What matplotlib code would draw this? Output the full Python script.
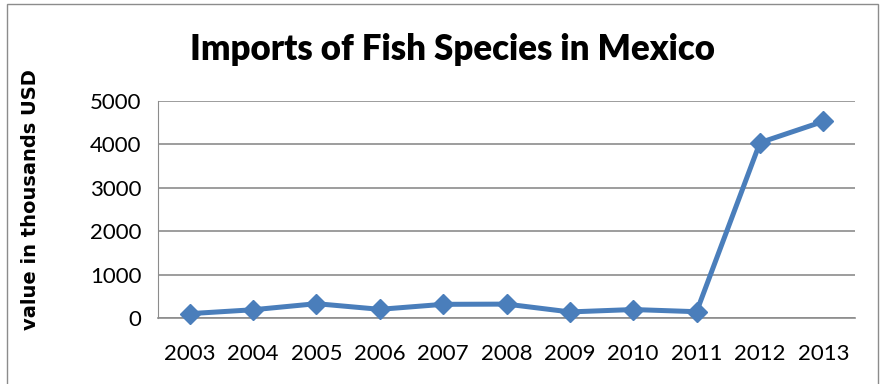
import matplotlib
matplotlib.use("Agg")
import matplotlib.pyplot as plt
from matplotlib.patches import Rectangle

years = ["2003", "2004", "2005", "2006", "2007", "2008", "2009", "2010", "2011", "2012", "2013"]
values = [100, 190, 330, 200, 315, 320, 140, 195, 145, 4040, 4530]
y_ticks = [0, 1000, 2000, 3000, 4000, 5000]

plt.rcParams['font.family'] = ['Lato', 'DejaVu Sans']

fig = plt.figure(figsize=(8.82, 3.84), dpi=100)
# chart border
fig.patches.append(Rectangle((7 / 882, -0.01), 871 / 882, 1 - 4 / 384 + 0.01,
                             transform=fig.transFigure, fill=False,
                             edgecolor='#8c8c8c', linewidth=1))

ax = fig.add_axes([158 / 882, 1 - 318 / 384, 697 / 882, 217 / 384])
x = list(range(len(years)))
ax.plot(x, values, color='#4a7ebb', linewidth=3.6, marker='D', markersize=10,
        zorder=3, clip_on=False)

ax.set_xlim(-0.5, len(years) - 0.5)
ax.set_ylim(0, 5000)
ax.set_yticks(y_ticks)
ax.set_yticklabels([str(v) for v in y_ticks], fontsize=16)
ax.set_xticks(x)
ax.set_xticklabels(years, fontsize=16)
ax.tick_params(axis='both', length=0)
ax.tick_params(axis='x', pad=19)
ax.tick_params(axis='y', pad=12)
ax.grid(axis='y', color='#8c8c8c', linewidth=1.2)
ax.set_axisbelow(True)
for side in ['top', 'right']:
    ax.spines[side].set_visible(False)
ax.spines['left'].set_color('#8c8c8c')
ax.spines['bottom'].set_color('#8c8c8c')
ax.spines['bottom'].set_linewidth(1.2)

fig.text(452 / 882, 1 - 50 / 384, "Imports of Fish Species in Mexico",
         ha='center', va='center', fontsize=25, fontweight='heavy')
fig.text(31 / 882, 1 - 200 / 384, "value in thousands USD", rotation=90,
         ha='center', va='center', fontsize=14, fontweight='bold',
         family='DejaVu Sans')

fig.savefig("out.png", dpi=100)
